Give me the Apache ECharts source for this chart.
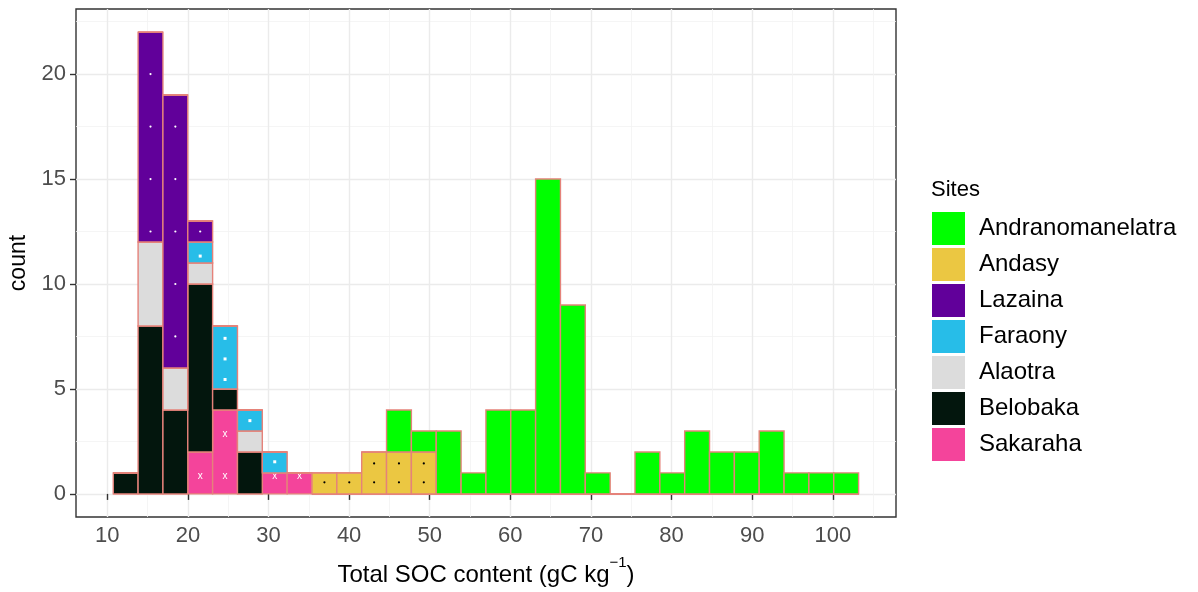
<!DOCTYPE html>
<html>
<head>
<meta charset="utf-8">
<script src="https://cdn.jsdelivr.net/npm/echarts@6/dist/echarts.min.js"></script>
<style>
  html, body { margin: 0; padding: 0; background: #fff; }
  #chart { width: 1198px; height: 592px; }
</style>
</head>
<body>
<div id="chart"></div>
<script>
// histogram bins (30 equal bins)
var binStart = 10.74;
var binWidth = 3.082;

// counts per bin for every site
var sakaraha         = [0,0,0,2,4,0,1,1,0,0, 0,0,0,0,0,0,0,0,0,0, 0,0,0,0,0,0,0,0,0,0];
var belobaka         = [1,8,4,8,1,2,0,0,0,0, 0,0,0,0,0,0,0,0,0,0, 0,0,0,0,0,0,0,0,0,0];
var alaotra          = [0,4,2,1,0,1,0,0,0,0, 0,0,0,0,0,0,0,0,0,0, 0,0,0,0,0,0,0,0,0,0];
var faraony          = [0,0,0,1,3,1,1,0,0,0, 0,0,0,0,0,0,0,0,0,0, 0,0,0,0,0,0,0,0,0,0];
var lazaina          = [0,10,13,1,0,0,0,0,0,0, 0,0,0,0,0,0,0,0,0,0, 0,0,0,0,0,0,0,0,0,0];
var andasy           = [0,0,0,0,0,0,0,0,1,1, 2,2,2,0,0,0,0,0,0,0, 0,0,0,0,0,0,0,0,0,0];
var andranomanelatra = [0,0,0,0,0,0,0,0,0,0, 0,2,1,3,1,4,4,15,9,1, 0,2,1,3,2,2,3,1,1,1];

var xTicks = [10, 20, 30, 40, 50, 60, 70, 80, 90, 100];
var xMinor = [15, 25, 35, 45, 55, 65, 75, 85, 95, 105];
var yTicks = [0, 5, 10, 15, 20];
var yMinor = [2.5, 7.5, 12.5, 17.5, 22.5];

// stacking order, bottom to top
var stackOrder = [
  { name: 'Sakaraha', counts: sakaraha, color: '#F4449B', mark: { glyph: 'x', color: '#fff', offset: 0.85, step: 2 } },
  { name: 'Belobaka', counts: belobaka, color: '#03160D' },
  { name: 'Alaotra', counts: alaotra, color: '#DCDCDC' },
  { name: 'Faraony', counts: faraony, color: '#27BDE8', mark: { glyph: 'square', color: '#fff', offset: 0.55, step: 0.98 } },
  { name: 'Lazaina', counts: lazaina, color: '#61009A', mark: { glyph: 'dot', color: '#fff', offset: 0, step: 2.5 } },
  { name: 'Andasy', counts: andasy, color: '#EBC742', mark: { glyph: 'dot', color: '#000', offset: 0.55, step: 0.9 } },
  { name: 'Andranomanelatra', counts: andranomanelatra, color: '#00FF00' }
];
var legendOrder = ['Andranomanelatra', 'Andasy', 'Lazaina', 'Faraony', 'Alaotra', 'Belobaka', 'Sakaraha'];

var outline = '#E5827A';
var font = '"Liberation Sans", Arial, sans-serif';

function makeRender(site) {
  return function (params, api) {
    var x0 = api.value(0), x1 = api.value(1), y0 = api.value(2), y1 = api.value(3);
    var a = api.coord([x0, y1]);
    var b = api.coord([x1, y0]);
    var children = [{
      type: 'rect',
      shape: { x: a[0], y: a[1], width: b[0] - a[0], height: b[1] - a[1] },
      style: { fill: site.color, stroke: outline, lineWidth: 1.4 }
    }];
    var m = site.mark;
    if (m && y1 > y0) {
      for (var v = m.offset; v < y1; v += m.step) {
        if (v <= y0) continue;
        var c = api.coord([(x0 + x1) / 2, v]);
        if (m.glyph === 'dot') {
          children.push({ type: 'circle', shape: { cx: c[0], cy: c[1], r: 1.1 }, style: { fill: m.color } });
        } else if (m.glyph === 'square') {
          children.push({ type: 'rect', shape: { x: c[0] - 1.5, y: c[1] - 1.5, width: 3, height: 3 }, style: { fill: m.color } });
        } else {
          children.push({ type: 'text', x: c[0], y: c[1], style: { text: 'x', fill: m.color, fontSize: 10, fontFamily: font, align: 'center', verticalAlign: 'middle' } });
        }
      }
    }
    return { type: 'group', children: children };
  };
}

// build stacked segments from the counts
var base = [];
for (var i = 0; i < 30; i++) base.push(0);
var series = stackOrder.map(function (site) {
  var data = site.counts.map(function (n, i) {
    var x0 = binStart + i * binWidth;
    var seg = [x0, x0 + binWidth, base[i], base[i] + n];
    base[i] += n;
    return seg;
  });
  return {
    name: site.name,
    type: 'custom',
    xAxisIndex: 0,
    yAxisIndex: 0,
    renderItem: makeRender(site),
    itemStyle: { color: site.color },
    encode: { x: [0, 1], y: [2, 3] },
    data: data
  };
});

var chart = echarts.init(document.getElementById('chart'));
var option = {
  animation: false,
  backgroundColor: '#fff',
  textStyle: { fontFamily: font },
  title: {
    text: 'Sites',
    left: 926,
    top: 174,
    textStyle: { fontSize: 22, fontWeight: 'normal', color: '#000', fontFamily: font }
  },
  legend: {
    data: legendOrder,
    orient: 'vertical',
    left: 932,
    top: 212,
    padding: 0,
    icon: 'rect',
    itemWidth: 33,
    itemHeight: 33,
    itemGap: 3,
    itemStyle: { borderWidth: 0 },
    textStyle: { fontSize: 24, color: '#000', fontFamily: font, padding: [0, 0, 0, 9] }
  },
  grid: {
    left: 76, right: 302, top: 9, bottom: 75,
    outerBoundsMode: 'none',
    show: true,
    backgroundColor: '#fff',
    borderColor: '#333',
    borderWidth: 1.4
  },
  xAxis: [{
    type: 'value',
    min: 6.12,
    max: 107.84,
    name: '{t|Total SOC content (gC kg}{sup|\u22121}{t|)}',
    nameLocation: 'middle',
    nameGap: 38,
    nameTextStyle: {
      fontSize: 24, color: '#000', fontFamily: font,
      rich: {
        t: { fontSize: 24, color: '#000', fontFamily: font, lineHeight: 32, verticalAlign: 'bottom' },
        sup: { fontSize: 15, color: '#000', fontFamily: font, lineHeight: 15, verticalAlign: 'top' }
      }
    },
    axisLine: { show: false },
    axisTick: { show: true, customValues: xTicks, length: 6, lineStyle: { color: '#333', width: 1.4 } },
    axisLabel: { customValues: xTicks, fontSize: 22, color: '#4D4D4D', margin: 8, fontFamily: font },
    splitLine: { show: true, lineStyle: { color: '#EBEBEB', width: 1.4 } }
  }, {
    type: 'value',
    min: 6.12,
    max: 107.84,
    position: 'bottom',
    axisLine: { show: false },
    axisTick: { show: false, customValues: xMinor },
    axisLabel: { show: false },
    splitLine: { show: true, lineStyle: { color: '#F2F2F2', width: 0.8 } }
  }],
  yAxis: [{
    type: 'value',
    min: -1.1,
    max: 23.1,
    name: 'count',
    nameLocation: 'middle',
    nameGap: 46,
    nameRotate: 90,
    nameTextStyle: { fontSize: 23, color: '#000', fontFamily: font },
    axisLine: { show: false },
    axisTick: { show: true, customValues: yTicks, length: 6, lineStyle: { color: '#333', width: 1.4 } },
    axisLabel: { customValues: yTicks, fontSize: 22, color: '#4D4D4D', margin: 10, fontFamily: font },
    splitLine: { show: true, lineStyle: { color: '#EBEBEB', width: 1.4 } }
  }, {
    type: 'value',
    min: -1.1,
    max: 23.1,
    position: 'left',
    axisLine: { show: false },
    axisTick: { show: false, customValues: yMinor },
    axisLabel: { show: false },
    splitLine: { show: true, lineStyle: { color: '#F2F2F2', width: 0.8 } }
  }],
  series: series
};
chart.setOption(option);
</script>
</body>
</html>
